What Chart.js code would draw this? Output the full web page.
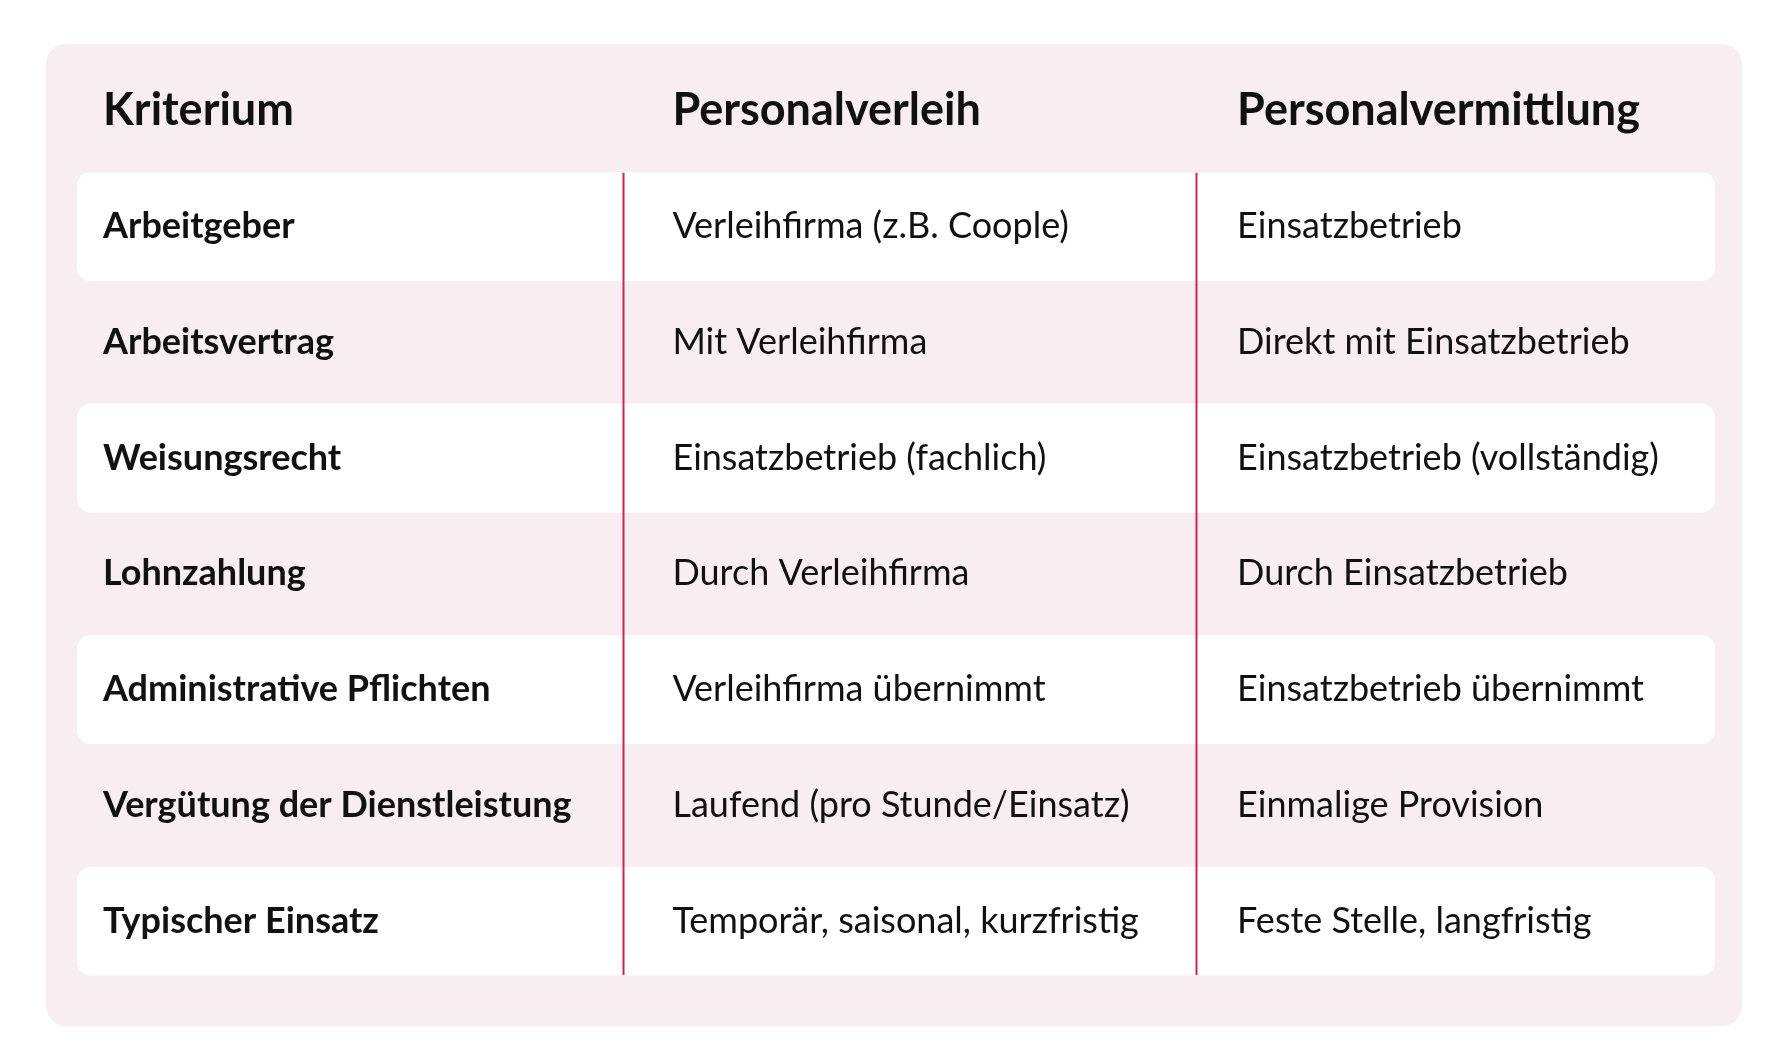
<!DOCTYPE html>
<html><head><meta charset="utf-8">
<script src="https://cdn.jsdelivr.net/npm/chart.js@4/dist/chart.umd.min.js"></script>
<style>html,body{margin:0;padding:0;background:#fff}#wrap{width:1792px;height:1064px}</style>
</head><body><div id="wrap"><canvas id="c"></canvas></div>
<script>
const headers = ["Kriterium", "Personalverleih", "Personalvermittlung"];
const criteria = ["Arbeitgeber","Arbeitsvertrag","Weisungsrecht","Lohnzahlung","Administrative Pflichten","Vergütung der Dienstleistung","Typischer Einsatz"];
const verleih = ["Verleihfirma (z.B. Coople)","Mit Verleihfirma","Einsatzbetrieb (fachlich)","Durch Verleihfirma","Verleihfirma übernimmt","Laufend (pro Stunde/Einsatz)","Temporär, saisonal, kurzfristig"];
const vermittlung = ["Einsatzbetrieb","Direkt mit Einsatzbetrieb","Einsatzbetrieb (vollständig)","Durch Einsatzbetrieb","Einsatzbetrieb übernimmt","Einmalige Provision","Feste Stelle, langfristig"];
const colStarts = [0, 0.3336, 0.6832];
const textOffsets = [26, 49, 41];

const labels = ["__header", ...criteria];
const stripes = labels.map((l, i) => (i % 2 === 1) ? [0, 1] : null);

const tablePlugin = {
  id: 'table',
  beforeDraw(chart) {
    const ctx = chart.ctx;
    ctx.save();
    ctx.fillStyle = '#f8eef1';
    ctx.beginPath();
    ctx.roundRect(46, 44, 1696, 982, 20);
    ctx.fill();
    ctx.restore();
  },
  afterDatasetsDraw(chart) {
    const ctx = chart.ctx, x = chart.scales.x, y = chart.scales.y;
    const half = (y.getPixelForValue(1) - y.getPixelForValue(0)) / 2;
    ctx.save();
    ctx.strokeStyle = '#d0254a';
    ctx.lineWidth = 2;
    [colStarts[1], colStarts[2]].forEach(c => {
      const px = Math.round(x.getPixelForValue(c)) + 0.5;
      ctx.beginPath();
      ctx.moveTo(px, y.getPixelForValue(1) - half + 4);
      ctx.lineTo(px, y.getPixelForValue(labels.length - 1) + half - 4);
      ctx.stroke();
    });
    ctx.fillStyle = '#111';
    ctx.textBaseline = 'middle';
    ctx.textAlign = 'left';
    ctx.font = 'bold 45px Lato';
    headers.forEach((h, j) => ctx.fillText(h, x.getPixelForValue(colStarts[j]) + textOffsets[j], y.getPixelForValue(0)));
    criteria.forEach((c, i) => {
      const py = y.getPixelForValue(i + 1);
      ctx.font = 'bold 36px Lato';
      ctx.fillText(c, x.getPixelForValue(colStarts[0]) + textOffsets[0], py);
      ctx.font = '36px Lato';
      ctx.fillText(verleih[i], x.getPixelForValue(colStarts[1]) + textOffsets[1], py);
      ctx.fillText(vermittlung[i], x.getPixelForValue(colStarts[2]) + textOffsets[2], py);
    });
    ctx.restore();
  }
};

new Chart(document.getElementById('c'), {
  type: 'bar',
  data: { labels, datasets: [{ data: stripes, backgroundColor: '#ffffff', borderSkipped: false, borderRadius: 14, barPercentage: 0.94, categoryPercentage: 1 }] },
  options: {
    indexAxis: 'y', responsive: true, maintainAspectRatio: false, animation: false,
    layout: { padding: { left: 77, right: 77, top: 53, bottom: 85 } },
    plugins: { legend: { display: false }, tooltip: { enabled: false } },
    scales: {
      x: { type: 'linear', min: 0, max: 1, display: false },
      y: { type: 'category', display: false, offset: true }
    }
  },
  plugins: [tablePlugin]
});
</script></body></html>
